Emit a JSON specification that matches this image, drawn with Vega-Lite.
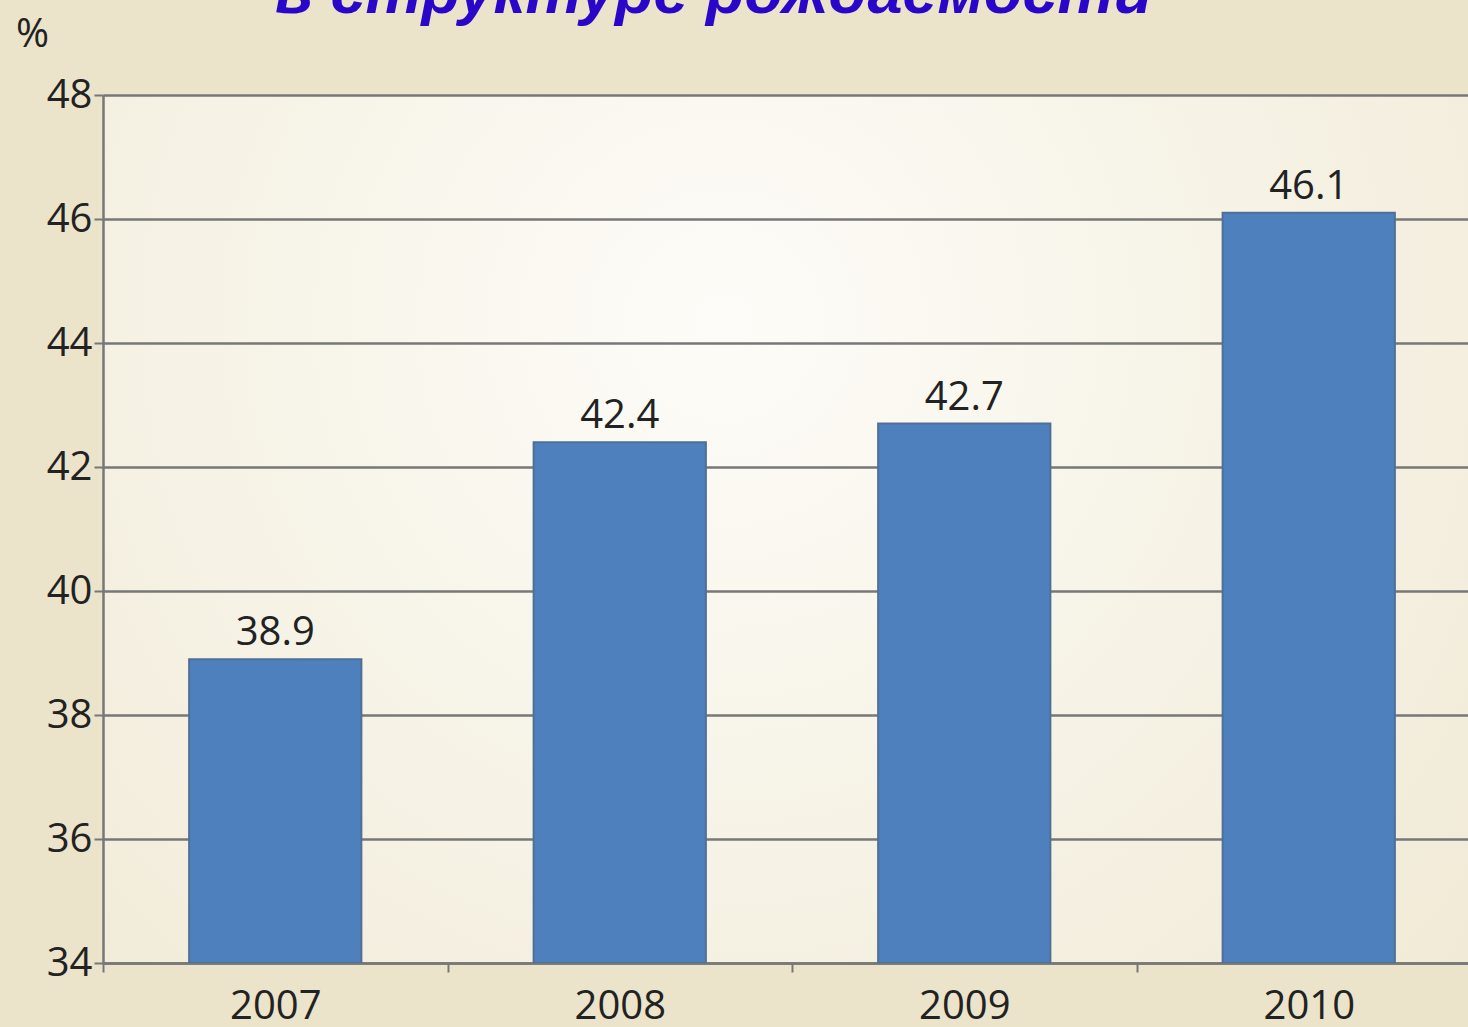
{
  "$schema": "https://vega.github.io/schema/vega-lite/v6.json",
  "autosize": {"type": "none"},
  "width": 1378,
  "height": 868,
  "padding": {"left": 103, "top": 95, "right": 0, "bottom": 64},
  "background": "#ebe3ca",
  "title": {
    "text": "в структуре рождаемости",
    "font": "Liberation Sans",
    "fontSize": 63,
    "fontWeight": "bold",
    "fontStyle": "italic",
    "color": "#2a07c8",
    "anchor": "start",
    "frame": "group",
    "baseline": "alphabetic",
    "dx": 172,
    "offset": -62
  },
  "config": {
    "view": {
      "stroke": null,
      "fill": {
        "gradient": "radial",
        "x1": 0.45, "y1": 0.35, "r1": 0,
        "x2": 0.45, "y2": 0.35, "r2": 0.8,
        "stops": [
          {"offset": 0, "color": "#fdfcf8"},
          {"offset": 1, "color": "#efe8d2"}
        ]
      }
    },
    "axis": {
      "labelFont": "Open Sans",
      "labelColor": "#222222",
      "labelFontSize": 40,
      "domainColor": "#777777",
      "domainWidth": 2.5,
      "tickColor": "#777777",
      "tickWidth": 2,
      "tickSize": 9,
      "gridColor": "#777777",
      "gridWidth": 2.5,
      "gridOpacity": 1
    }
  },
  "data": {
    "values": [
      {"year": "2007", "value": 38.9},
      {"year": "2008", "value": 42.4},
      {"year": "2009", "value": 42.7},
      {"year": "2010", "value": 46.1}
    ]
  },
  "encoding": {
    "x": {
      "field": "year",
      "type": "ordinal",
      "scale": {"paddingInner": 0, "paddingOuter": 0},
      "axis": {
        "title": null,
        "labelAngle": 0,
        "tickBand": "extent",
        "labelPadding": 14,
        "labelBaseline": "top",
        "grid": false
      }
    },
    "y": {
      "field": "value",
      "type": "quantitative",
      "scale": {"domain": [34, 48], "zero": false, "nice": false},
      "axis": {
        "values": [34, 36, 38, 40, 42, 44, 46, 48],
        "grid": true,
        "labelPadding": 2,
        "title": "%",
        "titleFont": "Open Sans",
        "titleFontWeight": "normal",
        "titleFontSize": 40,
        "titleColor": "#222222",
        "titleAngle": 0,
        "titleX": -71,
        "titleY": -49,
        "titleAlign": "center",
        "titleBaseline": "alphabetic"
      }
    }
  },
  "layer": [
    {
      "mark": {"type": "bar", "clip": true, "width": {"band": 0.5}, "color": "#4e80bd", "stroke": "#4f6f99", "strokeWidth": 2},
      "encoding": {"y2": {"datum": 34}}
    },
    {
      "mark": {"type": "text", "baseline": "alphabetic", "dy": -14, "font": "Open Sans", "fontSize": 40, "color": "#222222"},
      "encoding": {"text": {"field": "value", "type": "quantitative", "format": ".1f"}}
    }
  ]
}
